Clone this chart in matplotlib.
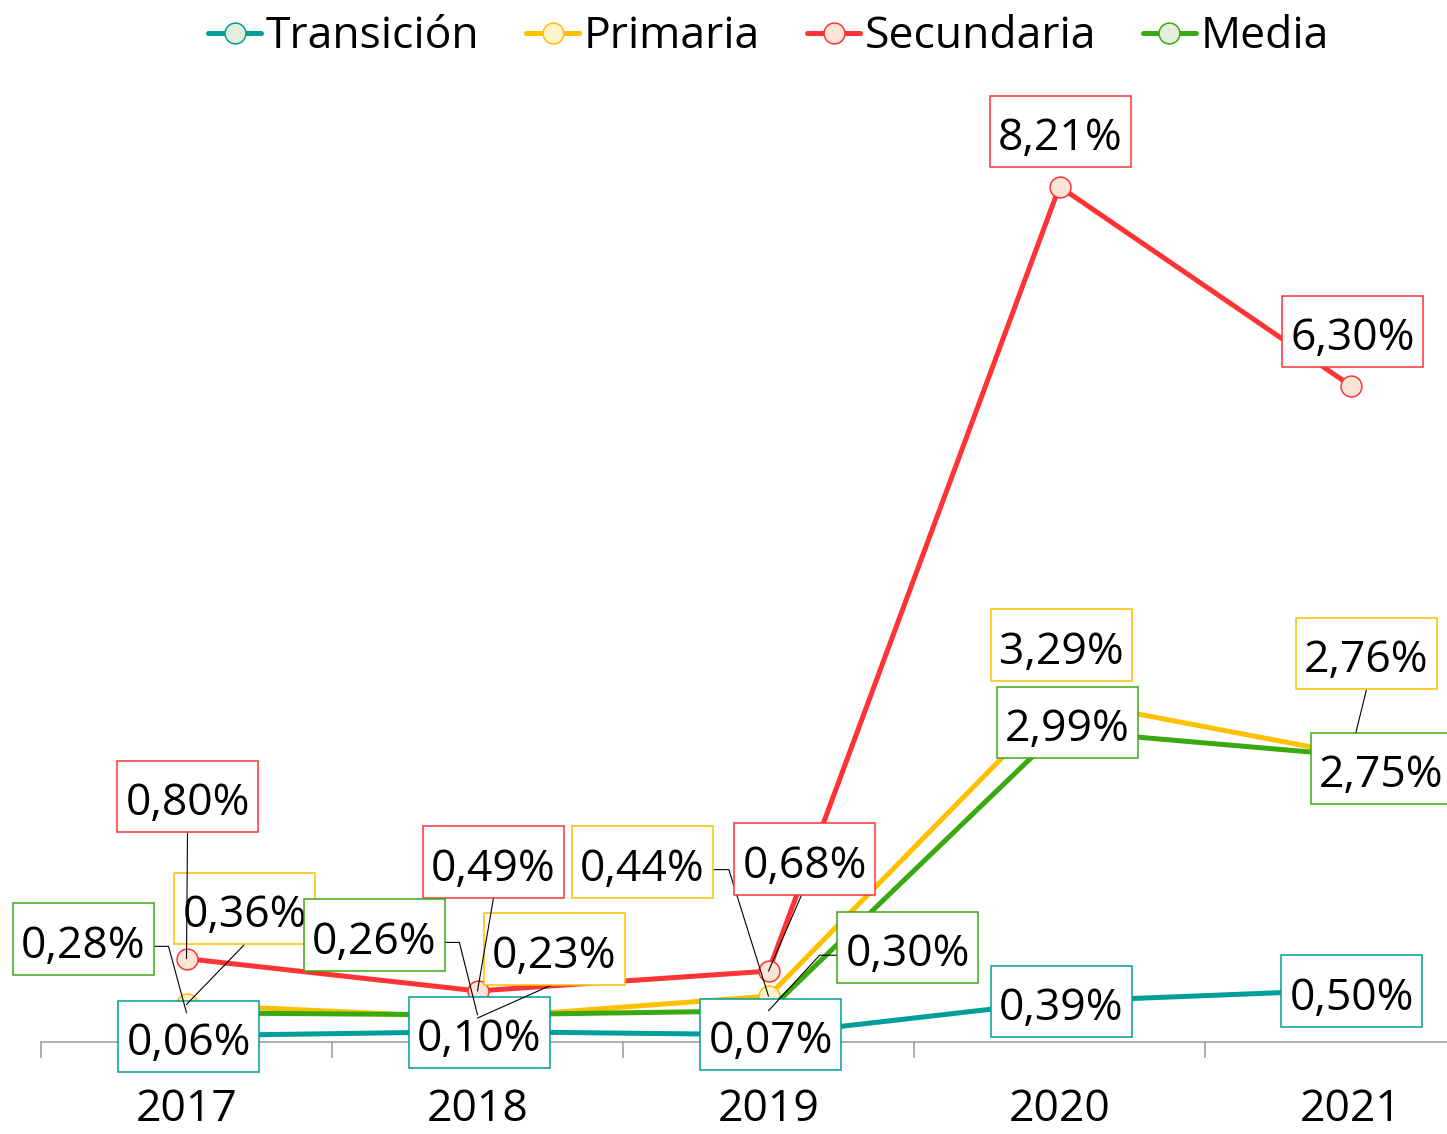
import math
import matplotlib
matplotlib.use("Agg")
import matplotlib.pyplot as plt
from matplotlib.path import Path

plt.rcParams["font.family"] = ["Open Sans", "DejaVu Sans"]

# Data -------------------------------------------------------------------
years = ["2017", "2018", "2019", "2020", "2021"]
series_names = ["Transición", "Primaria", "Secundaria", "Media"]
transicion = [0.06, 0.10, 0.07, 0.39, 0.50]
primaria = [0.36, 0.23, 0.44, 3.29, 2.76]
secundaria = [0.80, 0.49, 0.68, 8.21, 6.30]
media = [0.28, 0.26, 0.30, 2.99, 2.75]

# Styles -----------------------------------------------------------------
line_colors = ["#009E99", "#FFC000", "#FF3333", "#3AA80F"]
fill_colors = ["#E2EFDA", "#FFF2CC", "#FCE4D6", "#E2EFDA"]

# Label box centre offsets from each point (pixels, x right / y up)
label_offsets = [
    [(2, -1), (2, -1), (2, 0), (2, 0), (1, -1)],
    [(58, 96), (77, 69), (-126, 134), (2, 54), (16, 101)],
    [(1, 162), (16, 129), (36, 112), (1, 55), (2, 54)],
    [(-103, 74), (-103, 80), (139, 63), (8, 8), (31, -13)],
]
# Leader lines: None, or (angle leaving the label, elbow offset from point)
leader_specs = [
    [None, None, None, None, None],
    [(90, (58, 60)), (90, (74, 33)), (0, (-42, 134)), None, (90, (16, 65))],
    [(90, (1, 126)), (90, (16, 93)), (90, (33, 76)), None, None],
    [(0, (-20, 74)), (0, (-20, 80)), (0, (58, 63)), None, None],
]

values = [transicion, primaria, secundaria, media]

W, H, DPI = 1447, 1134, 100
FS = 32

# Label frame padding around the text layout box (pixels)
PAD_X, PAD_TOP, PAD_BOTTOM = 8, 21, 6


def label_box(x0, y0, width, height, mutation_size):
    xa, xb = x0 - PAD_X, x0 + width + PAD_X
    ya, yb = y0 - PAD_BOTTOM, y0 + height + PAD_TOP
    return Path([(xa, ya), (xb, ya), (xb, yb), (xa, yb), (xa, ya)],
                closed=True)


fig = plt.figure(figsize=(W / DPI, H / DPI), dpi=DPI)

# Plot area: y = 0 at 1042 px from the top, 104.2 px per percentage point
y_max = 9.0
ax_h = y_max * 104.2
ax = fig.add_axes([41 / W, (H - 1042) / H, 1455 / W, ax_h / H])
ax.set_xlim(-0.5, 4.5)
ax.set_ylim(0, y_max)

x = list(range(len(years)))

for name, vals, lc, fc in zip(series_names, values, line_colors, fill_colors):
    ax.plot(x, vals, color=lc, lw=3.6, solid_capstyle="round",
            marker="o", markersize=15, markerfacecolor=fc,
            markeredgecolor=lc, markeredgewidth=1.1, label=name,
            clip_on=False, zorder=3)

shift = (PAD_TOP - PAD_BOTTOM) / 2
for vals, lc, offs, specs in zip(values, line_colors, label_offsets,
                                 leader_specs):
    for xi, v, off, spec in zip(x, vals, offs, specs):
        txt = f"{v:.2f}%".replace(".", ",")
        kw = {}
        if spec is not None:
            ang_a, (ex, ey) = spec
            ang_b = math.degrees(math.atan2(ey, ex))
            kw["arrowprops"] = dict(
                arrowstyle="-", color="black", lw=0.8, shrinkA=0, shrinkB=0,
                connectionstyle=f"angle,angleA={ang_a},angleB={ang_b:.2f},rad=0")
        ax.annotate(txt, xy=(xi, v), xytext=(off[0], off[1] - shift),
                    textcoords="offset pixels",
                    ha="center", va="center", fontsize=FS, color="black",
                    bbox=dict(boxstyle=label_box, fc="white", ec=lc, lw=1.1),
                    annotation_clip=False, zorder=5, **kw)

# Axes styling
for s in ["left", "right", "top"]:
    ax.spines[s].set_visible(False)
ax.spines["bottom"].set_color("#999999")
ax.spines["bottom"].set_linewidth(1.1)
ax.set_yticks([])
ax.set_xticks(x)
ax.set_xticklabels(years, fontsize=FS)
ax.tick_params(axis="x", which="major", length=0, pad=33)
ax.set_xticks([i - 0.5 for i in range(len(years) + 1)], minor=True)
ax.tick_params(axis="x", which="minor", length=11.5, width=1.1,
               color="#999999", direction="out")

leg = ax.legend(loc="center", bbox_to_anchor=(0.5, (1042 - 37) / ax_h),
                ncol=4, frameon=False, fontsize=FS, handlelength=1.2,
                handletextpad=0.1, columnspacing=1.05, borderaxespad=0)

fig.savefig("out.png", dpi=DPI)
